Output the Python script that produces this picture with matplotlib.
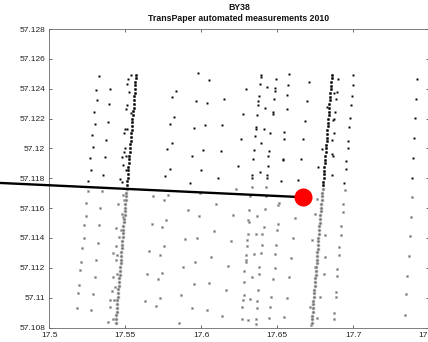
import matplotlib
matplotlib.use("Agg")
import matplotlib.pyplot as plt
import numpy as np

plt.rcParams['font.family'] = ['Liberation Sans', 'DejaVu Sans']

# ---- data (longitude, latitude) ----
track1_lat = [57.10832, 57.10858, 57.10881, 57.10905, 57.10932, 57.10955, 57.10981, 57.11006,
              57.11030, 57.11057, 57.11080, 57.11104, 57.11131, 57.11155, 57.11180, 57.11206,
              57.11229, 57.11255, 57.11280, 57.11304, 57.11330, 57.11354, 57.11380, 57.11405,
              57.11430, 57.11454, 57.11479, 57.11505, 57.11529, 57.11555, 57.11578, 57.11604,
              57.11630, 57.11653, 57.11679, 57.11703, 57.11729, 57.11753, 57.11779, 57.11802,
              57.11828, 57.11853, 57.11877, 57.11902, 57.11928, 57.11952, 57.11977, 57.12001,
              57.12027, 57.12051, 57.12076, 57.12101, 57.12126, 57.12150, 57.12175, 57.12200,
              57.12225, 57.12249, 57.12274, 57.12299, 57.12323, 57.12349, 57.12373, 57.12398,
              57.12422, 57.12447, 57.12472, 57.12495]
track1_lon = [17.5437, 17.5440, 17.5441, 17.5443, 17.5444, 17.5447, 17.5448, 17.5451,
              17.5452, 17.5455, 17.5456, 17.5458, 17.5461, 17.5462, 17.5465, 17.5466,
              17.5469, 17.5470, 17.5473, 17.5474, 17.5477, 17.5478, 17.5481, 17.5482,
              17.5485, 17.5487, 17.5488, 17.5491, 17.5492, 17.5495, 17.5497, 17.5498,
              17.5501, 17.5503, 17.5504, 17.5507, 17.5509, 17.5510, 17.5513, 17.5515,
              17.5517, 17.5519, 17.5521, 17.5523, 17.5525, 17.5527, 17.5529, 17.5531,
              17.5533, 17.5535, 17.5537, 17.5539, 17.5541, 17.5543, 17.5545, 17.5547,
              17.5549, 17.5551, 17.5554, 17.5555, 17.5558, 17.5559, 17.5562, 17.5563,
              17.5566, 17.5567, 17.5570, 17.5572]

track2_lat = [57.10830, 57.10856, 57.10880, 57.10906, 57.10929, 57.10955, 57.10980, 57.11004,
              57.11030, 57.11054, 57.11080, 57.11105, 57.11129, 57.11154, 57.11179, 57.11204,
              57.11230, 57.11253, 57.11279, 57.11304, 57.11329, 57.11353, 57.11379, 57.11403,
              57.11428, 57.11454, 57.11478, 57.11503, 57.11528, 57.11552, 57.11578, 57.11603,
              57.11627, 57.11652, 57.11678, 57.11702, 57.11727, 57.11752, 57.11776, 57.11801,
              57.11826, 57.11851, 57.11875, 57.11900, 57.11925, 57.11950, 57.11974, 57.12000,
              57.12024, 57.12049, 57.12073, 57.12099, 57.12123, 57.12148, 57.12173, 57.12197,
              57.12222, 57.12247, 57.12272, 57.12296, 57.12321, 57.12346, 57.12370, 57.12395,
              57.12420, 57.12445, 57.12469, 57.12494]
track2_lon = [17.6726, 17.6728, 17.6729, 17.6732, 17.6734, 17.6735, 17.6738, 17.6740,
              17.6741, 17.6744, 17.6746, 17.6747, 17.6750, 17.6752, 17.6753, 17.6756,
              17.6758, 17.6759, 17.6762, 17.6764, 17.6765, 17.6768, 17.6770, 17.6771,
              17.6774, 17.6776, 17.6777, 17.6780, 17.6782, 17.6783, 17.6786, 17.6788,
              17.6789, 17.6792, 17.6794, 17.6795, 17.6798, 17.6800, 17.6801, 17.6804,
              17.6806, 17.6807, 17.6810, 17.6812, 17.6813, 17.6816, 17.6818, 17.6819,
              17.6822, 17.6824, 17.6825, 17.6828, 17.6830, 17.6831, 17.6834, 17.6836,
              17.6837, 17.6840, 17.6842, 17.6843, 17.6846, 17.6848, 17.6849, 17.6852,
              17.6854, 17.6855, 17.6857, 17.6859]

scatter_lon = [
    # west column (upper)
    17.5329, 17.5305, 17.5399, 17.5316, 17.5393, 17.5294, 17.5301, 17.5384, 17.5281, 17.5371,
    17.5286, 17.5266, 17.5365, 17.5272, 17.5355, 17.5253,
    # near track 1 (upper)
    17.5538, 17.5520, 17.5513, 17.5524, 17.5509, 17.5503, 17.5538, 17.5498, 17.5511, 17.5492,
    17.5496, 17.5490, 17.5478, 17.5507, 17.5485, 17.5505, 17.5463, 17.5480,
    # west column (lower)
    17.5257, 17.5345, 17.5241, 17.5336, 17.5241, 17.5228, 17.5327, 17.5228, 17.5318, 17.5215,
    17.5209, 17.5305, 17.5202, 17.5299, 17.5197, 17.5187, 17.5286, 17.5182, 17.5274,
    # near track 1 (lower)
    17.5485, 17.5454, 17.5494, 17.5476, 17.5487, 17.5441, 17.5470, 17.5459, 17.5437, 17.5421,
    17.5443, 17.5437, 17.5447, 17.5421, 17.5432, 17.5415, 17.5401, 17.5428, 17.5399, 17.5421,
    17.5388,
    # middle (upper)
    17.5980, 17.6049, 17.5832, 17.5807, 17.5965, 17.6036, 17.6152, 17.5819, 17.5792, 17.6023,
    17.6138, 17.5952, 17.5805, 17.5776, 17.6011, 17.6128, 17.5937, 17.5792, 17.6000, 17.5763,
    17.6110, 17.5924, 17.6240,
    # middle (lower)
    17.5684, 17.5781, 17.5753, 17.5994, 17.6097, 17.5911, 17.5983, 17.6211, 17.5674, 17.5768,
    17.5742, 17.6082, 17.5895, 17.5974, 17.6194, 17.5753, 17.5656, 17.5728, 17.5961, 17.6066,
    17.5882, 17.6174, 17.5641, 17.5742, 17.5713, 17.5952, 17.6053, 17.6161, 17.5869, 17.5628,
    17.5726, 17.5700, 17.5937, 17.6038, 17.6138, 17.5853, 17.6227,
    # east-middle (upper)
    17.6391, 17.6391, 17.6490, 17.6577, 17.6386, 17.6434, 17.6573, 17.6483, 17.6483, 17.6711,
    17.6292, 17.6380, 17.6566, 17.6477, 17.6375, 17.6375, 17.6698, 17.6421, 17.6562, 17.6367,
    17.6470, 17.6470, 17.6275, 17.6683, 17.6360, 17.6360, 17.6411, 17.6452, 17.6546, 17.6354,
    17.6259, 17.6667, 17.6544, 17.6395, 17.6345, 17.6446, 17.6441, 17.6536, 17.6536, 17.6656,
    17.6342, 17.6441, 17.6384, 17.6336, 17.6336, 17.6434, 17.6434, 17.6523, 17.6638,
    # east-middle (lower)
    17.6332, 17.6426, 17.6321, 17.6426, 17.6513, 17.6507, 17.6419, 17.6316, 17.6619, 17.6365,
    17.6309, 17.6314, 17.6507, 17.6413, 17.6500, 17.6309, 17.6358, 17.6398, 17.6301, 17.6606,
    17.6398, 17.6301, 17.6494, 17.6345, 17.6395, 17.6294, 17.6294, 17.6294, 17.6485, 17.6590,
    17.6382, 17.6485, 17.6283, 17.6332, 17.6382, 17.6470, 17.6579, 17.6283, 17.6373, 17.6279,
    17.6273, 17.6323, 17.6369, 17.6457, 17.6562, 17.6270, 17.6369, 17.6452, 17.6266, 17.6309,
    17.6360, 17.6360, 17.6448, 17.6546,
    # near track 2
    17.6871, 17.6825, 17.6869, 17.6873, 17.6792, 17.6862, 17.6770, 17.6858, 17.6867,
    17.6759, 17.6748, 17.6814, 17.6727, 17.6814, 17.6748, 17.6806, 17.6781, 17.6715, 17.6763,
    17.6720,
    # east column
    17.6900, 17.7000, 17.6998, 17.6895, 17.6990, 17.6887, 17.6987, 17.6882, 17.6977, 17.6873,
    17.6974, 17.6963, 17.6963, 17.6862, 17.6952, 17.6952, 17.6941,
    17.6944, 17.6933, 17.6933, 17.6920, 17.6920, 17.6908, 17.6908, 17.6895, 17.6895, 17.6887,
    17.6885, 17.6873, 17.6873,
    # far east column
    17.7421, 17.7413, 17.7408, 17.7402, 17.7395, 17.7389,
    17.7389, 17.7378, 17.7371, 17.7365, 17.7354, 17.7347, 17.7343,
]
scatter_lat = [
    57.12485, 57.12391, 57.12397, 57.12322, 57.12295, 57.12241, 57.12165, 57.12174, 57.12091, 57.12053,
    57.12010, 57.11936, 57.11941, 57.11856, 57.11825, 57.11782,
    57.12491, 57.12462, 57.12431, 57.12377, 57.12292, 57.12261, 57.12234, 57.12131, 57.12127, 57.12100,
    57.12006, 57.11975, 57.11943, 57.11950, 57.11890, 57.11854, 57.11794, 57.11773,
    57.11715, 57.11715, 57.11637, 57.11599, 57.11550, 57.11485, 57.11487, 57.11400, 57.11369, 57.11331,
    57.11241, 57.11252, 57.11185, 57.11138, 57.11082, 57.11029, 57.11022, 57.10933, 57.10914,
    57.11688, 57.11630, 57.11653, 57.11563, 57.11540, 57.11467, 57.11451, 57.11409, 57.11349, 57.11299,
    57.11284, 57.11250, 57.11161, 57.11138, 57.11071, 57.11044, 57.10982, 57.10986, 57.10937, 57.10859,
    57.10836,
    57.12503, 57.12458, 57.12384, 57.12346, 57.12315, 57.12303, 57.12332, 57.12212, 57.12165, 57.12156,
    57.12154, 57.12136, 57.12037, 57.11997, 57.11990, 57.11981, 57.11946, 57.11865, 57.11854, 57.11818,
    57.11800, 57.11765, 57.11885,
    57.11679, 57.11691, 57.11655, 57.11702, 57.11630, 57.11588, 57.11545, 57.11557, 57.11494, 57.11518,
    57.11476, 57.11449, 57.11396, 57.11398, 57.11382, 57.11344, 57.11310, 57.11288, 57.11241, 57.11275,
    57.11203, 57.11212, 57.11156, 57.11165, 57.11123, 57.11094, 57.11096, 57.11049, 57.11020, 57.10977,
    57.10997, 57.10946, 57.10930, 57.10914, 57.10876, 57.10827, 57.11726,
    57.12491, 57.12476, 57.12465, 57.12498, 57.12431, 57.12413, 57.12424, 57.12402, 57.12386, 57.12446,
    57.12395, 57.12353, 57.12355, 57.12328, 57.12317, 57.12290, 57.12319, 57.12268, 57.12261, 57.12223,
    57.12245, 57.12232, 57.12230, 57.12185, 57.12144, 57.12129, 57.12129, 57.12100, 57.12107, 57.12082,
    57.12060, 57.12060, 57.12064, 57.12033, 57.11988, 57.11981, 57.11950, 57.11932, 57.11919, 57.11926,
    57.11932, 57.11885, 57.11842, 57.11825, 57.11805, 57.11825, 57.11805, 57.11782, 57.11787,
    57.11742, 57.11742, 57.11679, 57.11679, 57.11634, 57.11621, 57.11594, 57.11586, 57.11534, 57.11550,
    57.11518, 57.11507, 57.11492, 57.11473, 57.11456, 57.11429, 57.11424, 57.11429, 57.11384, 57.11400,
    57.11355, 57.11344, 57.11355, 57.11295, 57.11299, 57.11288, 57.11255, 57.11237, 57.11295, 57.11268,
    57.11205, 57.11198, 57.11176, 57.11138, 57.11156, 57.11127, 57.11138, 57.11104, 57.11053, 57.11015,
    57.10986, 57.10993, 57.10977, 57.11004, 57.11000, 57.10937, 57.10933, 57.10937, 57.10859, 57.10852,
    57.10859, 57.10825, 57.10863, 57.10870,
    57.12369, 57.12279, 57.12190, 57.12104, 57.11999, 57.12055, 57.11876, 57.11820, 57.11948,
    57.11664, 57.11563, 57.11418, 57.11384, 57.11272, 57.11205, 57.11161, 57.11004, 57.10937, 57.10866,
    57.10814,
    57.12465, 57.12491, 57.12422, 57.12377, 57.12350, 57.12328, 57.12290, 57.12241, 57.12205, 57.12194,
    57.12144, 57.12051, 57.12004, 57.11960, 57.11914, 57.11859, 57.11769,
    57.11720, 57.11630, 57.11574, 57.11480, 57.11422, 57.11339, 57.11288, 57.11190, 57.11143, 57.11037,
    57.11002, 57.10899, 57.10856,
    57.12467, 57.12330, 57.12201, 57.12067, 57.11936, 57.11802,
    57.11675, 57.11541, 57.11416, 57.11277, 57.11145, 57.11027, 57.10886,
]

line_lon = [17.45, 17.6669]
line_lat = [57.11777, 57.11673]
site_lon = [17.6669]
site_lat = [57.11673]

xticks = [17.5, 17.55, 17.6, 17.65, 17.7, 17.75]
xticklabels = ['17.5', '17.55', '17.6', '17.65', '17.7', '17.75']
yticks = [57.108, 57.11, 57.112, 57.114, 57.116, 57.118, 57.12, 57.122, 57.124, 57.126, 57.128]
yticklabels = ['57.108', '57.11', '57.112', '57.114', '57.116', '57.118', '57.12',
               '57.122', '57.124', '57.126', '57.128']
title_lines = ['BY38', 'TransPaper automated measurements 2010']
split_lat = 57.1175

# ---- figure ----
W, H = 428, 342
fig = plt.figure(figsize=(W / 100, H / 100), dpi=100)
ax = fig.add_axes([49.3 / W, 14.5 / H, 380 / W, 298.5 / H])


def draw(lon, lat, ms_up, ms_low, marker_up, marker_low):
    lon = np.asarray(lon)
    lat = np.asarray(lat)
    up = lat > split_lat
    ax.plot(lon[~up], lat[~up], ls='none', marker=marker_low, ms=ms_low,
            mfc='#6e6e6e', mec='#b4b4b4', mew=0.5, zorder=2)
    ax.plot(lon[up], lat[up], ls='none', marker=marker_up, ms=ms_up,
            mfc='black', mec='#444444', mew=0.3, zorder=2)


draw(scatter_lon, scatter_lat, 1.15, 1.6, 's', 's')
draw(track1_lon, track1_lat, 1.9, 2.1, 'o', 'o')
draw(track2_lon, track2_lat, 1.9, 2.1, 'o', 'o')

ax.plot(line_lon, line_lat, color='black', lw=1.7, clip_on=False, zorder=4)
ax.plot(site_lon, site_lat, ls='none', marker='o', ms=12, mfc='#ff0000',
        mec='#ff0000', zorder=5)

ax.set_xlim(17.5, 17.75)
ax.set_ylim(57.108, 57.128)
ax.set_xticks(xticks)
ax.set_xticklabels(xticklabels)
ax.set_yticks(yticks)
ax.set_yticklabels(yticklabels)
ax.tick_params(direction='in', length=2.5, width=0.6, colors='#555555',
               labelcolor='#222222', labelsize=6, top=True, right=True, pad=3)
for s in ax.spines.values():
    s.set_color('#6a6a6a')
    s.set_linewidth(0.6)

fig.text(239 / W, 1 - 7.5 / H, title_lines[0], ha='center', va='center',
         fontsize=6.3, fontweight='bold', color='#111111')
fig.text(239 / W, 1 - 18.5 / H, title_lines[1], ha='center', va='center',
         fontsize=6.3, fontweight='bold', color='#111111')

fig.savefig('out.png', dpi=100, facecolor='white')
